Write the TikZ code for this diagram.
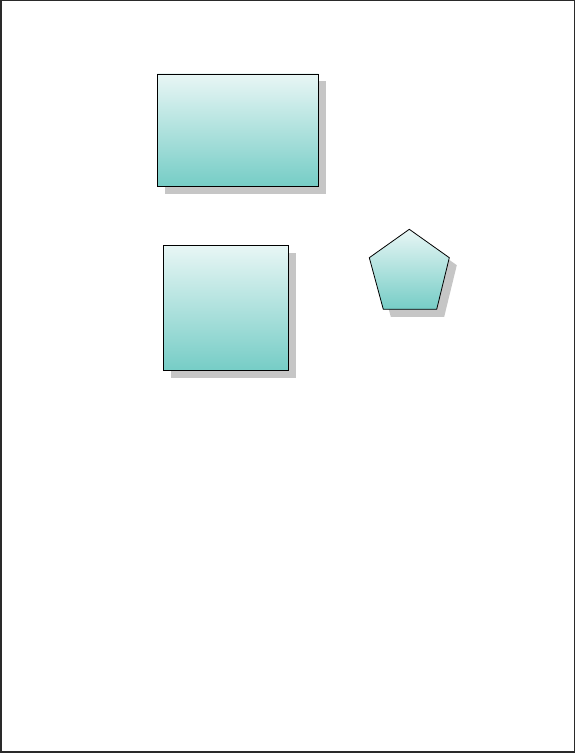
\documentclass[tikz,border=0pt]{standalone}
\usepackage{xcolor}
\usepackage{tikz}
\usetikzlibrary{shadows}
\definecolor{shtop}{HTML}{E8F6F5}
\definecolor{shbottom}{HTML}{76CDC6}
\definecolor{shgray}{HTML}{C6C6C6}
\definecolor{pageedge}{HTML}{2A2A2A}
\tikzset{
  tealshape/.style={draw=black,line width=0.8pt,top color=shtop,bottom color=shbottom,
    drop shadow={shadow xshift=7.5pt,shadow yshift=-7.5pt,fill=shgray,opacity=1}},
}

\begin{document}
\begin{tikzpicture}[x=1pt,y=-1pt]
  \useasboundingbox (0,0) rectangle (576,754);
  \draw[pageedge,line width=1.4pt] (0.8,0.8) rectangle (574.5,751.8);
  \node[tealshape,rectangle,minimum width=161pt,minimum height=112pt,inner sep=0pt] (widebox) at (237.8,130) {};
  \node[tealshape,rectangle,minimum width=125.5pt,minimum height=125.5pt,inner sep=0pt] (squarebox) at (225.9,307.8) {};
  \draw[tealshape] (409.3,229.3) -- (449.3,257.7) -- (436.7,309.3) -- (383.3,309.3) -- (369.3,257.7) -- cycle;
\end{tikzpicture}
\end{document}
